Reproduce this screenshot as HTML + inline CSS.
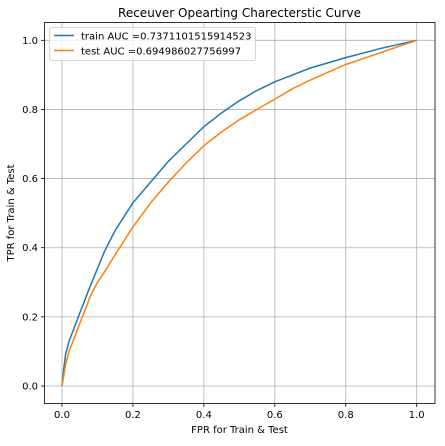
<!DOCTYPE html>
<html><head><meta charset="utf-8"><style>
body{margin:0;background:#fff;}
svg text{font-family:"DejaVu Sans","Liberation Sans",sans-serif;fill:#000;}
</style></head><body>
<svg id="chart" width="445" height="441" xmlns="http://www.w3.org/2000/svg">
<rect width="445" height="441" fill="#fff"/>
<text x="239.5" y="17" font-size="12" text-anchor="middle">Receuver Opearting Charecterstic Curve</text>
<g id="grid"></g>
<g id="series"></g>
<rect x="44.5" y="22.5" width="390.5" height="381" fill="none" stroke="#000" stroke-width="0.8"/>
<g id="ticks"></g>
<text x="239.5" y="433" font-size="10" text-anchor="middle">FPR for Train &amp; Test</text>
<text x="0" y="0" font-size="10" text-anchor="middle" transform="translate(14,213) rotate(-90)">TPR for Train &amp; Test</text>
<g>
<rect x="49.5" y="27.5" width="206" height="33" rx="2" fill="#fff" fill-opacity="0.8" stroke="#ccc" stroke-width="0.8"/>
<line x1="54" y1="35.5" x2="74" y2="35.5" stroke="#1f77b4" stroke-width="1.5"/>
<text x="81" y="39.5" font-size="10">train AUC =0.7371101515914523</text>
<line x1="54" y1="50.5" x2="74" y2="50.5" stroke="#ff7f0e" stroke-width="1.5"/>
<text x="81" y="54.5" font-size="10">test AUC =0.694986027756997</text>
</g>
</svg>
<script>
const ticks=[0,0.2,0.4,0.6,0.8,1.0];
const trainFpr=[0,0.005,0.01,0.02,0.05,0.08,0.1,0.12,0.15,0.2,0.25,0.3,0.35,0.4,0.45,0.5,0.55,0.6,0.65,0.7,0.8,0.9,1];
const trainTpr=[0,0.05,0.09,0.13,0.21,0.29,0.34,0.39,0.45,0.53,0.59,0.65,0.70,0.75,0.79,0.825,0.855,0.88,0.90,0.92,0.95,0.977,1];
const testFpr=[0,0.005,0.01,0.02,0.05,0.08,0.1,0.12,0.15,0.2,0.25,0.3,0.35,0.4,0.45,0.5,0.55,0.6,0.65,0.7,0.8,0.9,1];
const testTpr=[0,0.03,0.06,0.10,0.18,0.26,0.30,0.33,0.38,0.46,0.53,0.59,0.645,0.695,0.735,0.77,0.80,0.83,0.86,0.885,0.93,0.965,1];
const NS="http://www.w3.org/2000/svg";
const xs=v=>62+v*354.7, ys=v=>386-v*345.7;
const grid=document.getElementById('grid'),tk=document.getElementById('ticks'),ser=document.getElementById('series');
function mk(tag,attrs,parent){const e=document.createElementNS(NS,tag);for(const k in attrs)e.setAttribute(k,attrs[k]);parent.appendChild(e);return e;}
ticks.forEach(t=>{
  const gx=mk('line',{x1:xs(t),x2:xs(t),y1:22.5,y2:403.5,stroke:'#b0b0b0','stroke-width':0.8},grid);
  
  
  const gy=mk('line',{x1:44.5,x2:435,y1:ys(t),y2:ys(t),stroke:'#b0b0b0','stroke-width':0.8},grid);
  
  
  mk('line',{x1:xs(t),x2:xs(t),y1:403.5,y2:407,stroke:'#000','stroke-width':0.8},tk);
  mk('line',{x1:41,x2:44.5,y1:ys(t),y2:ys(t),stroke:'#000','stroke-width':0.8},tk);
  const lx=mk('text',{x:xs(t),y:418,'font-size':10,'text-anchor':'middle'},tk);
  lx.textContent=t.toFixed(1);
  
  
  const ly=mk('text',{x:38,y:ys(t)+3.5,'font-size':10,'text-anchor':'end'},tk);
  ly.textContent=t.toFixed(1);
  
  
});
function line(fx,fy,color,name){
  const d=fx.map((v,i)=>(i?'L':'M')+xs(v).toFixed(1)+','+ys(fy[i]).toFixed(1)).join('');
  const p=mk('path',{d:d,fill:'none',stroke:color,'stroke-width':1.5},ser);
  
  
}
line(trainFpr,trainTpr,'#1f77b4','train-roc-line');
line(testFpr,testTpr,'#ff7f0e','test-roc-line');
</script>
</body></html>
